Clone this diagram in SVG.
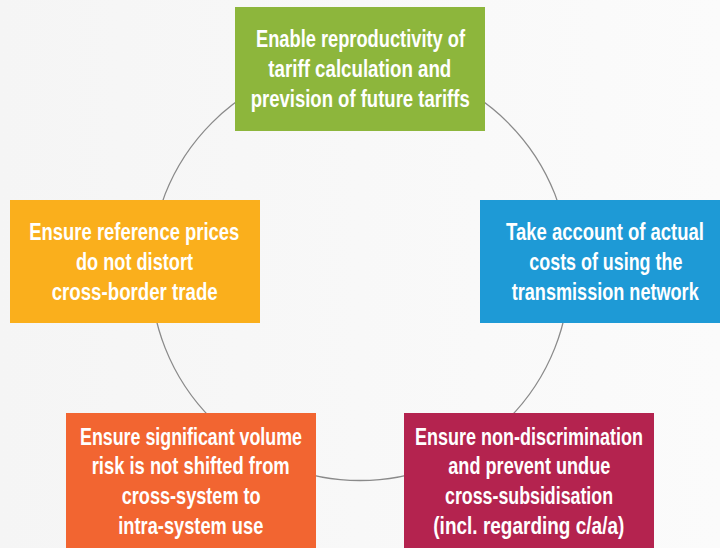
<svg xmlns="http://www.w3.org/2000/svg" width="720" height="548" viewBox="0 0 720 548">
<style>
.t{font-family:"Liberation Sans",Arial,sans-serif;font-weight:bold;font-size:23px;fill:#ffffff}
.ring{fill:none;stroke:#8a8a8a;stroke-width:1.3}
</style>
<defs>
<linearGradient id="bg" x1="0" y1="0" x2="1" y2="0">
<stop offset="0" stop-color="#f5f5f5"/>
<stop offset="1" stop-color="#fbfbfb"/>
</linearGradient>
</defs>
<rect x="0" y="0" width="720" height="548" fill="url(#bg)"/>
<g id="connectors">
<circle class="ring" cx="360" cy="271" r="209.5"/>
</g>
<g id="node-reproductivity">
<rect x="235" y="7" width="250" height="124" fill="#8db63c"/>
<text class="t" lengthAdjust="spacingAndGlyphs" x="256" y="47" textLength="209">Enable reproductivity of</text>
<text class="t" lengthAdjust="spacingAndGlyphs" x="268.3" y="77" textLength="183">tariff calculation and</text>
<text class="t" lengthAdjust="spacingAndGlyphs" x="250.7" y="107" textLength="219">prevision of future tariffs</text>
</g>
<g id="node-actual-costs">
<rect x="480" y="200" width="240" height="123" fill="#1e9ad6"/>
<g transform="translate(605 0) scale(0.8 1)">
<text class="t" lengthAdjust="spacingAndGlyphs" x="-123.75" y="240" textLength="247.5">Take account of actual</text>
<text class="t" lengthAdjust="spacingAndGlyphs" x="-94.6" y="270" textLength="191.25">costs of using the</text>
<text class="t" lengthAdjust="spacingAndGlyphs" x="-116.6" y="300" textLength="233.75">transmission network</text>
</g>
</g>
<g id="node-cross-border">
<rect x="10" y="200" width="250" height="123" fill="#faaf1c"/>
<text class="t" lengthAdjust="spacingAndGlyphs" x="29.3" y="240" textLength="210">Ensure reference prices</text>
<text class="t" lengthAdjust="spacingAndGlyphs" x="76" y="270" textLength="117">do not distort</text>
<text class="t" lengthAdjust="spacingAndGlyphs" x="51.7" y="300" textLength="166">cross-border trade</text>
</g>
<g id="node-volume-risk">
<rect x="66" y="413" width="250" height="135" fill="#f26531"/>
<text class="t" lengthAdjust="spacingAndGlyphs" x="80" y="445" textLength="222">Ensure significant volume</text>
<text class="t" lengthAdjust="spacingAndGlyphs" x="91.7" y="474" textLength="198">risk is not shifted from</text>
<text class="t" lengthAdjust="spacingAndGlyphs" x="121.7" y="504" textLength="139">cross-system to</text>
<text class="t" lengthAdjust="spacingAndGlyphs" x="118.3" y="534" textLength="145">intra-system use</text>
</g>
<g id="node-non-discrimination">
<rect x="404" y="413" width="250" height="135" fill="#b4234f"/>
<text class="t" lengthAdjust="spacingAndGlyphs" x="415" y="445" textLength="228">Ensure non-discrimination</text>
<text class="t" lengthAdjust="spacingAndGlyphs" x="448.3" y="474" textLength="162">and prevent undue</text>
<text class="t" lengthAdjust="spacingAndGlyphs" x="445" y="504" textLength="168">cross-subsidisation</text>
<text class="t" lengthAdjust="spacingAndGlyphs" x="433.3" y="534" textLength="191">(incl. regarding c/a/a)</text>
</g>
</svg>
